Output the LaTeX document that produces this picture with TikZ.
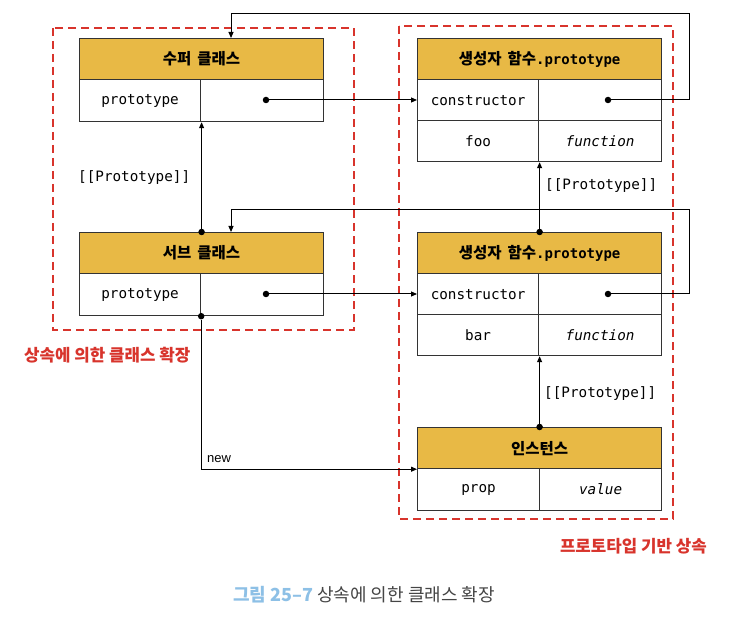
\documentclass[tikz,border=0pt]{standalone}
\usepackage{fontspec}
\setmainfont{Liberation Sans}
\setmonofont{DejaVu Sans Mono}
\newfontfamily\kr{Noto Sans CJK KR}
\usetikzlibrary{arrows.meta}
\definecolor{gold}{HTML}{E8B945}
\definecolor{bordc}{HTML}{333333}
\definecolor{dashred}{HTML}{D8342C}
\definecolor{capblue}{HTML}{8DC0E6}
\definecolor{capgray}{HTML}{454545}
\begin{document}
\begin{tikzpicture}[x=1pt,y=-1pt,
  hdr/.style={draw=bordc, fill=gold, line width=1.2pt, minimum width=244pt, minimum height=41pt, anchor=north west, inner sep=0pt, font=\kr\bfseries\fontsize{15.5}{17}\selectfont},
  cell/.style={draw=bordc, line width=1.2pt, minimum height=41pt, anchor=north west, inner sep=0pt, font=\ttfamily\fontsize{14.3}{16}\selectfont},
  kcell/.style={cell, minimum width=121pt},
  vcell/.style={cell, minimum width=123pt},
  mono/.style={font=\ttfamily\fontsize{14.3}{16}\selectfont, inner sep=0pt},
  dot/.style={circle, fill=black, inner sep=0pt, minimum size=6.5pt},
  conn/.style={draw=black, line width=1pt, -{Triangle[length=6pt,width=5pt]}},
  reddash/.style={draw=dashred, line width=2.5pt, dash pattern=on 8pt off 5pt},
  redlbl/.style={text=dashred, font=\kr\bfseries\fontsize{16.8}{19}\selectfont, inner sep=0pt}
]
\useasboundingbox[fill=white] (0,0) rectangle (736,620);

% dashed groups
\draw[reddash] (53,28) rectangle (354,330);
\draw[reddash] (399,26) rectangle (673,519);

% super class
\node[hdr] (sup) at (79,38) {수퍼\hspace{6pt}클래스};
\node[kcell, minimum height=42pt] (supk) at (79,79) {prototype};
\node[vcell, minimum height=42pt] (supv) at (200,79) {};

% sub class
\node[hdr] (sub) at (79,232) {서브\hspace{6pt}클래스};
\node[kcell, minimum height=42pt] (subk) at (79,273) {prototype};
\node[vcell, minimum height=42pt] (subv) at (200,273) {};

% prototype A
\node[hdr] (pa) at (417,38) {생성자\hspace{6pt}함수{\ttfamily\bfseries\fontsize{14}{16}\selectfont .prototype}};
\node[kcell] (pak) at (417,79) {constructor};
\node[vcell] (pav) at (538,79) {};
\node[kcell] (pfk) at (417,120) {foo};
\node[vcell] (pfv) at (538,120) {\itshape function};

% prototype B
\node[hdr] (pb) at (417,232) {생성자\hspace{6pt}함수{\ttfamily\bfseries\fontsize{14}{16}\selectfont .prototype}};
\node[kcell] (pbk) at (417,273) {constructor};
\node[vcell] (pbv) at (538,273) {};
\node[kcell] (pbfk) at (417,314) {bar};
\node[vcell] (pbfv) at (538,314) {\itshape function};

% instance
\node[hdr] (inst) at (417,427) {인스턴스};
\node[kcell, minimum width=122pt, minimum height=42pt] (ik) at (417,468) {prop};
\node[cell, minimum width=122pt, minimum height=42pt] (iv) at (539,468) {\itshape value};

% dots
\node[dot] (dsup) at (266,100) {};
\node[dot] (dsub) at (266,294) {};
\node[dot] (dpa) at (608,100) {};
\node[dot] (dpb) at (608,294) {};
\node[dot] (dsubtop) at (sub.north) {};
\node[dot] (dnew) at (subk.south east) {};
\node[dot] (dpbtop) at (pb.north) {};
\node[dot] (dinst) at (inst.north) {};

\coordinate (lp1) at (689,14);
\coordinate (tg1) at (231,38);
\coordinate (lp2) at (689,210);
\coordinate (tg2) at (231,232);

% connectors
\draw[conn] (dsup) -- (dsup -| pak.west);
\draw[conn] (dsub) -- (dsub -| pbk.west);
\draw[conn] (dpa) -- (dpa -| lp1) -- (lp1) -- (lp1 -| tg1) -- (tg1);
\draw[conn] (dpb) -- (dpb -| lp2) -- (lp2) -- (lp2 -| tg2) -- (tg2);
\draw[conn] (dsubtop) -- (dsubtop |- supk.south);
\draw[conn] (dpbtop) -- (dpbtop |- pfk.south);
\draw[conn] (dinst) -- (dinst |- pbfk.south);
\draw[conn] (dnew) |- (inst.south west);

% labels
\node[mono, anchor=west] (lbl1) at (78,178) {[[Prototype]]};
\node[mono, anchor=west] (lbl2) at (545,186) {[[Prototype]]};
\node[mono, anchor=west] (lbl3) at (544,394) {[[Prototype]]};
\node[anchor=west, inner sep=0pt, font=\fontsize{13}{15}\selectfont] (lnew) at (207,459) {new};

\node[redlbl, anchor=west] (g1) at (24,355) {상속에 의한 클래스 확장};
\node[redlbl, anchor=east] (g2) at (707,546) {프로토타입 기반 상속};

\node[inner sep=0pt, font=\kr\fontsize{18}{20}\selectfont, text=capgray] (cap) at (364,595) {{\bfseries\color{capblue}그림 25–7} 상속에 의한 클래스 확장};
\end{tikzpicture}
\end{document}
